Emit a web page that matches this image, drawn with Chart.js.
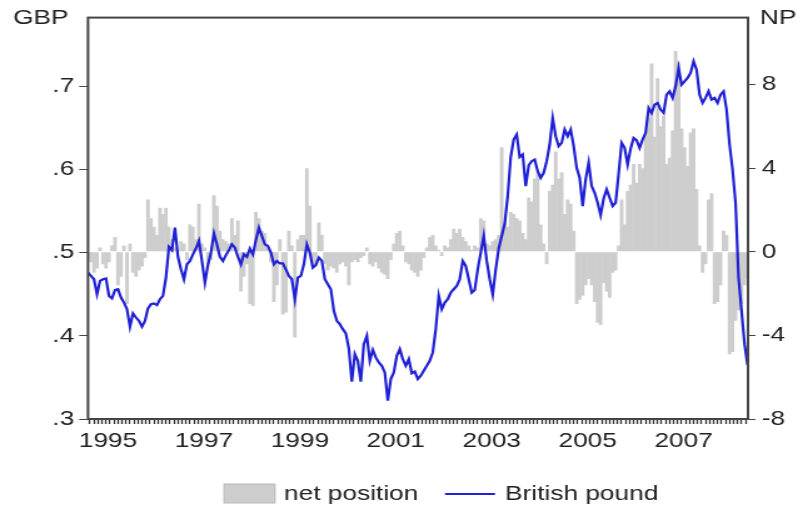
<!DOCTYPE html>
<html>
<head>
<meta charset="utf-8">
<script src="https://cdn.jsdelivr.net/npm/chart.js@4.4.1/dist/chart.umd.min.js"></script>
<style>
    html, body { margin: 0; padding: 0; background: #fff; overflow: hidden; }
    /* the original picture is stretched sideways, so we draw narrow and scale up */
    #wrap { position: absolute; left: 0; top: 0; width: 642px; height: 510px;
            transform: scaleX(1.2508); transform-origin: 0 0; }
</style>
</head>
<body>
<div id="wrap"><canvas id="chart"></canvas></div>
<script>
/**
 * GBP vs net position, weekly-ish samples (16 per year) from Jan 1995
 */

const startYear = 1995;
const stepYears = 1 / 16;
const xMax = 2008.76;

// British pound (left axis)
const gbp = [
    .476, .472, .468, .45, .466, .468, .469, .448, .445, .455, .456, .446, .44, .432, .411, .427,
    .422, .418, .411, .418, .433, .438, .439, .437, .444, .448, .47, .507, .503, .53, .495, .48,
    .468, .486, .49, .498, .505, .514, .49, .464, .485, .50, .523, .51, .495, .49, .497, .503,
    .51, .506, .495, .486, .498, .495, .505, .498, .515, .53, .52, .51, .508, .50, .486, .49,
    .487, .487, .48, .472, .468, .444, .47, .472, .486, .51, .50, .482, .485, .494, .49, .468,
    .462, .456, .43, .418, .414, .408, .403, .385, .345, .378, .37, .345, .39, .40, .37, .383,
    .374, .368, .364, .356, .322, .348, .356, .376, .384, .372, .364, .372, .355, .357, .348, .352,
    .358, .364, .37, .38, .408, .448, .432, .44, .444, .452, .456, .46, .468, .49, .484, .468,
    .452, .455, .48, .50, .52, .49, .468, .45, .48, .505, .52, .535, .568, .615, .636, .642,
    .615, .618, .58, .605, .61, .612, .598, .59, .596, .61, .63, .662, .64, .628, .632, .648,
    .64, .648, .628, .602, .59, .556, .588, .608, .58, .572, .56, .545, .565, .576, .566, .556,
    .56, .595, .632, .626, .606, .625, .638, .635, .626, .636, .644, .674, .668, .678, .68, .672,
    .668, .69, .694, .686, .70, .722, .702, .706, .71, .716, .73, .72, .69, .68, .686, .694,
    .684, .686, .68, .69, .694, .672, .63, .60, .56, .47, .43, .39, .365
];

// net position (right axis)
const netPosition = [
    -0.3, -0.5, -1.0, -0.8, 0.2, -0.6, -0.8, -0.5, 0.3, 0.7, -1.6, -1.2, 0.3, -2.5, 0.4, -1.0,
    -1.2, -0.9, -0.7, -0.3, 2.5, 1.6, 1.2, 0.8, 2.1, 1.8, 2.1, 1.2, 0.6, 0.2, 0.1, 0.5,
    0.4, -0.4, 1.3, 1.2, 0.6, 2.3, 0.4, 0.2, -0.6, -0.4, 2.7, 2.2, 1.0, 0.6, 0.5, 0.4,
    1.6, 0.8, 1.5, -1.9, -1.2, -0.6, -2.5, -2.6, 1.9, 1.6, 1.0, 0.9, 0.2, -0.5, -2.4, -1.6,
    0.6, -3.0, -2.9, 1.0, 0.3, -4.1, 0.6, 0.8, 0.8, 4.0, 2.2, -0.7, -0.6, 1.4, 0.8, -0.6,
    -0.9, -0.7, -0.8, -1.0, -0.6, -0.5, -0.7, -1.6, -0.5, -0.4, -0.5, -0.3, -0.2, 0.2, -0.6, -0.7,
    -0.5, -0.8, -1.0, -1.1, -1.3, -0.4, 0.4, 0.9, 1.0, 0.3, -0.5, -0.6, -0.9, -1.0, -1.2, -0.9,
    -0.3, 0.2, 0.7, 0.8, 0.3, 0.1, -0.2, 0.3, 0.2, 0.6, 1.1, 0.9, 1.1, 0.7, 0.5, 0.3,
    0.1, 0.3, 0.2, 1.6, 1.5, 0.4, 0.3, 0.5, 0.6, 0.8, 5.0, 1.4, 1.2, 1.9, 1.8, 1.6,
    1.5, 0.9, 0.6, 2.6, 2.4, 3.5, 3.8, 1.3, 0.4, -0.6, 2.9, 3.2, 4.8, 3.5, 3.8, 1.8,
    2.5, 2.3, 1.0, -2.5, -2.3, -2.1, -1.6, -1.3, -1.6, -2.4, -3.4, -3.5, -1.5, -1.9, -2.2, -1.0,
    -0.9, 0.3, 2.5, 1.3, 2.9, 3.2, 4.2, 3.3, 4.2, 4.0, 5.6, 6.4, 9.0, 5.5, 8.3, 6.0,
    6.5, 4.2, 4.5, 5.8, 9.6, 9.1, 5.9, 5.0, 4.1, 5.7, 5.9, 3.0, 0.3, -1.0, -0.6, 2.5,
    2.8, -2.5, -2.4, -1.6, 1.0, 0.8, -4.9, -4.8, -3.3, -2.8, -2.5, -1.6, -1.3
];

const yearLabels = ['1995', '1997', '1999', '2001', '2003', '2005', '2007'];
const gbpTicks = [0.3, 0.4, 0.5, 0.6, 0.7];
const npTicks = [-8, -4, 0, 4, 8];

const FONT = '"Liberation Sans", Arial, sans-serif';
const STRETCH = 803 / 642;
const px = v => v / STRETCH;   // screen x -> canvas x
const LINE_COLOR = '#2020d4';
const BAR_COLOR = '#cdcdcd';
const TEXT_COLOR = '#222';

/**
 * Frame round the plot area
 */
const framePlugin = {
    id: 'frame',
    afterDatasetsDraw(chart) {
        const { ctx, chartArea: a } = chart;
        ctx.save();
        ctx.strokeStyle = '#444';
        ctx.lineWidth = 2;
        ctx.strokeRect(a.left, a.top, a.right - a.left, a.bottom - a.top);
        ctx.restore();
    }
};

/**
 * Axis titles and legend
 */
const textPlugin = {
    id: 'texts',
    afterDraw(chart) {
        const ctx = chart.ctx;
        ctx.save();
        ctx.font = '21px ' + FONT;
        ctx.fillStyle = TEXT_COLOR;
        ctx.textBaseline = 'middle';
        ctx.textAlign = 'left';
        ctx.fillText('GBP', px(13), 18);
        ctx.fillText('NP', px(760), 18);

        // legend
        ctx.fillStyle = BAR_COLOR;
        ctx.fillRect(px(224), 484, px(275) - px(224), 19);
        ctx.strokeStyle = '#b8b8b8';
        ctx.lineWidth = 1;
        ctx.strokeRect(px(224), 484, px(275) - px(224), 19);
        ctx.fillStyle = TEXT_COLOR;
        ctx.fillText('net position', px(284), 494);

        ctx.strokeStyle = LINE_COLOR;
        ctx.lineWidth = 2;
        ctx.beginPath();
        ctx.moveTo(px(445), 494);
        ctx.lineTo(px(495), 494);
        ctx.stroke();
        ctx.fillText('British pound', px(505), 494);
        ctx.restore();
    }
};

const toPoints = arr => arr.map((v, i) => ({ x: startYear + i * stepYears, y: v }));

new Chart(document.getElementById('chart'), {
    type: 'bar',
    data: {
        datasets: [
            {
                type: 'line',
                label: 'British pound',
                data: toPoints(gbp),
                yAxisID: 'yL',
                borderColor: LINE_COLOR,
                borderWidth: 2.2,
                pointRadius: 0,
                tension: 0,
                order: 0
            },
            {
                type: 'bar',
                label: 'net position',
                data: toPoints(netPosition),
                yAxisID: 'yR',
                backgroundColor: BAR_COLOR,
                borderWidth: 0,
                barPercentage: 1.2,
                categoryPercentage: 1,
                order: 1
            }
        ]
    },
    options: {
        responsive: true,
        maintainAspectRatio: false,
        animation: false,
        layout: { padding: { top: 15, left: 0, right: 0, bottom: 0 } },
        plugins: {
            legend: { display: false },
            tooltip: { enabled: false }
        },
        scales: {
            x: {
                type: 'linear',
                min: startYear,
                max: xMax,
                offset: false,
                border: { display: false },
                grid: { drawOnChartArea: false, drawTicks: true, tickLength: 5, tickColor: '#333', tickWidth: 1.3 },
                ticks: {
                    autoSkip: false,
                    maxRotation: 0,
                    minRotation: 0,
                    padding: 5,
                    labelOffset: px(20),
                    color: TEXT_COLOR,
                    font: { family: FONT, size: 21 },
                    callback: (value) => {
                        const yr = Math.round(value);
                        return Math.abs(value - yr) < 1e-6 && yearLabels.includes(String(yr)) ? String(yr) : '';
                    }
                },
                afterBuildTicks: (scale) => {
                    const ticks = [];
                    for (let y = startYear; y <= 2008; y++) {
                        for (let m = 0; m < 12; m++) {
                            const v = y + m / 12;
                            if (v <= xMax) ticks.push({ value: v });
                        }
                    }
                    scale.ticks = ticks;
                },
                afterFit: (scale) => { scale.height = 91; }
            },
            yL: {
                type: 'linear',
                position: 'left',
                min: 0.3,
                max: 0.7826,
                border: { display: false },
                grid: { drawOnChartArea: false, tickLength: 7, tickColor: '#444' },
                ticks: {
                    padding: 4,
                    color: TEXT_COLOR,
                    font: { family: FONT, size: 21 },
                    callback: v => '.' + Math.round(v * 10)
                },
                afterBuildTicks: (scale) => { scale.ticks = gbpTicks.map(v => ({ value: v })); },
                afterFit: (scale) => { scale.width = px(88); }
            },
            yR: {
                type: 'linear',
                position: 'right',
                min: -8,
                max: 11.2,
                border: { display: false },
                grid: { drawOnChartArea: false, tickLength: 6, tickColor: '#444' },
                ticks: {
                    padding: 5,
                    color: TEXT_COLOR,
                    font: { family: FONT, size: 21 },
                    callback: v => String(v)
                },
                afterBuildTicks: (scale) => { scale.ticks = npTicks.map(v => ({ value: v })); },
                afterFit: (scale) => { scale.width = 642 - px(748); }
            }
        }
    },
    plugins: [framePlugin, textPlugin]
});
</script>
</body>
</html>
